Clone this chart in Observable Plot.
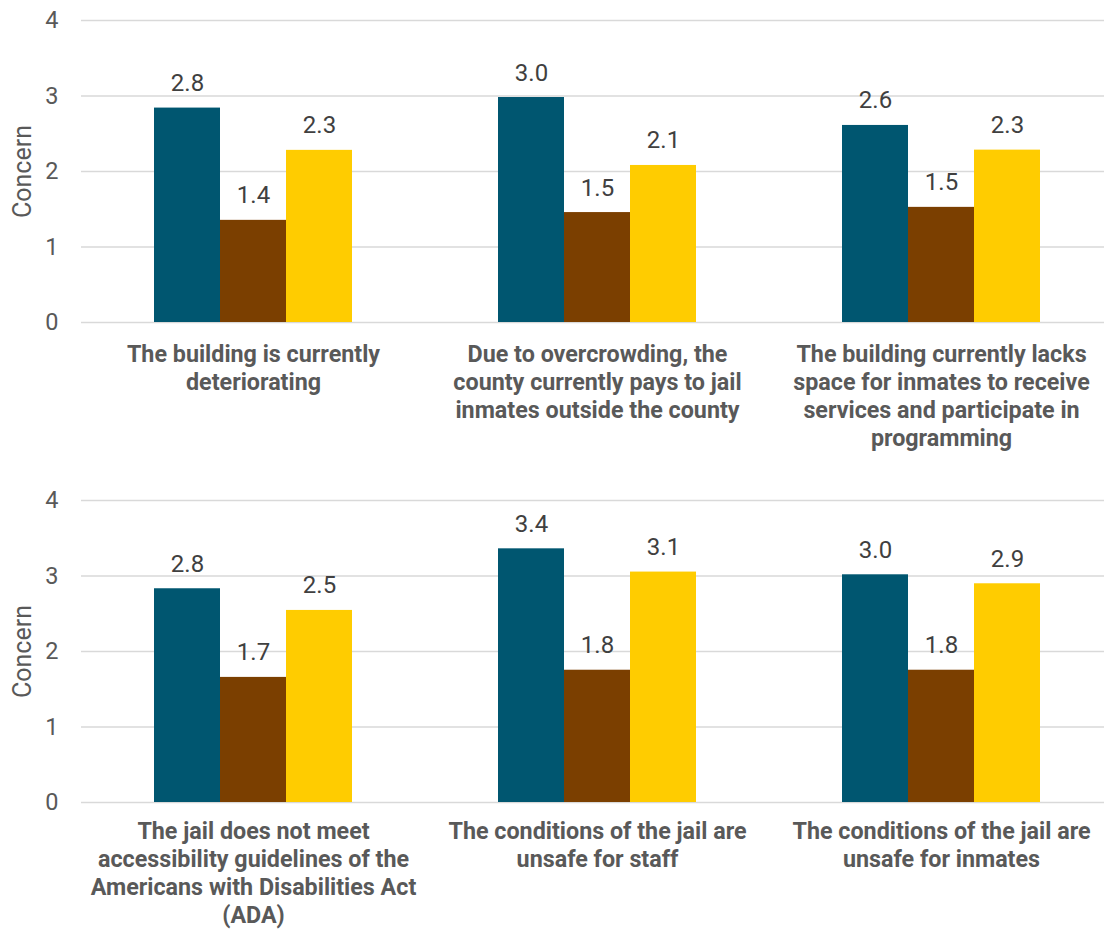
<!DOCTYPE html>
<html>
<head>
<meta charset="utf-8">
<script src="https://cdn.jsdelivr.net/npm/d3@7"></script>
<script src="https://cdn.jsdelivr.net/npm/@observablehq/plot@0.6"></script>
<style>
  html, body { margin: 0; padding: 0; background: #fff; }
  #chart { width: 1104px; }
  #chart svg { display: block; }
</style>
</head>
<body>
<div id="chart"></div>
<script>
// ---- Data ----
const seriesNames = ["Series 1", "Series 2", "Series 3"];
const seriesColors = ["#005670", "#7B3F00", "#FFCC00"];
const yTicks = [0, 1, 2, 3, 4];
const yLabel = "Concern";

const categoriesTop = [
  "The building is currently\ndeteriorating",
  "Due to overcrowding, the\ncounty currently pays to jail\ninmates outside the county",
  "The building currently lacks\nspace for inmates to receive\nservices and participate in\nprogramming"
];
const topSeries1 = [2.84, 2.98, 2.61];
const topSeries2 = [1.353, 1.456, 1.525];
const topSeries3 = [2.28, 2.08, 2.283];

const categoriesBottom = [
  "The jail does not meet\naccessibility guidelines of the\nAmericans with Disabilities Act\n(ADA)",
  "The conditions of the jail are\nunsafe for staff",
  "The conditions of the jail are\nunsafe for inmates"
];
const bottomSeries1 = [2.831, 3.36, 3.016];
const bottomSeries2 = [1.657, 1.752, 1.752];
const bottomSeries3 = [2.544, 3.052, 2.897];

function buildRows(categories, s1, s2, s3) {
  const rows = [];
  const all = [s1, s2, s3];
  categories.forEach((c, i) => {
    all.forEach((s, j) => rows.push({category: c, series: seriesNames[j], value: s[i]}));
  });
  return rows;
}

function makePanel(categories, rows, height, marginBottom, labelDy) {
  return Plot.plot({
    width: 1104,
    height,
    marginTop: 20,
    marginBottom,
    marginLeft: 80,
    marginRight: 0,
    style: {fontFamily: "Roboto, 'Liberation Sans', sans-serif", background: "#fff"},
    fx: {domain: categories, range: [80, 1113], paddingInner: 0, paddingOuter: 0, axis: null},
    x: {domain: seriesNames, paddingInner: 0, paddingOuter: 1.089, axis: null},
    y: {domain: [0, 4], axis: null},
    color: {domain: seriesNames, range: seriesColors},
    marks: [
      Plot.gridY(yTicks, {stroke: "#d9d9d9", strokeOpacity: 1, strokeWidth: 1.5}),
      Plot.axisY(yTicks, {
        tickSize: 0, tickPadding: 23, fontSize: 23.5, fill: "#595959",
        label: null, tickFormat: d => String(d)
      }),
      Plot.text([{category: categories[0]}], {
        fx: "category", text: () => yLabel, frameAnchor: "left", rotate: -90,
        dx: -59, fontSize: 25, fill: "#595959", textAnchor: "middle", lineAnchor: "middle"
      }),
      Plot.barY(rows, {fx: "category", x: "series", y: "value", fill: "series", inset: 0}),
      Plot.text(rows, {
        fx: "category", x: "series", y: "value", text: d => d.value.toFixed(1),
        lineAnchor: "bottom", dy: -17, fontSize: 24, fill: "#404040"
      }),
      Plot.text(categories, {
        fx: d => d, text: d => d, frameAnchor: "bottom", lineAnchor: "top",
        dy: labelDy, fontSize: 23.3, fontWeight: "bold", fill: "#595959", lineHeight: 1.21,
        textAnchor: "middle"
      })
    ]
  });
}

const chart = document.getElementById("chart");
chart.appendChild(makePanel(categoriesTop, buildRows(categoriesTop, topSeries1, topSeries2, topSeries3), 480, 158, 19));
chart.appendChild(makePanel(categoriesBottom, buildRows(categoriesBottom, bottomSeries1, bottomSeries2, bottomSeries3), 450, 128, 16));
</script>
</body>
</html>
